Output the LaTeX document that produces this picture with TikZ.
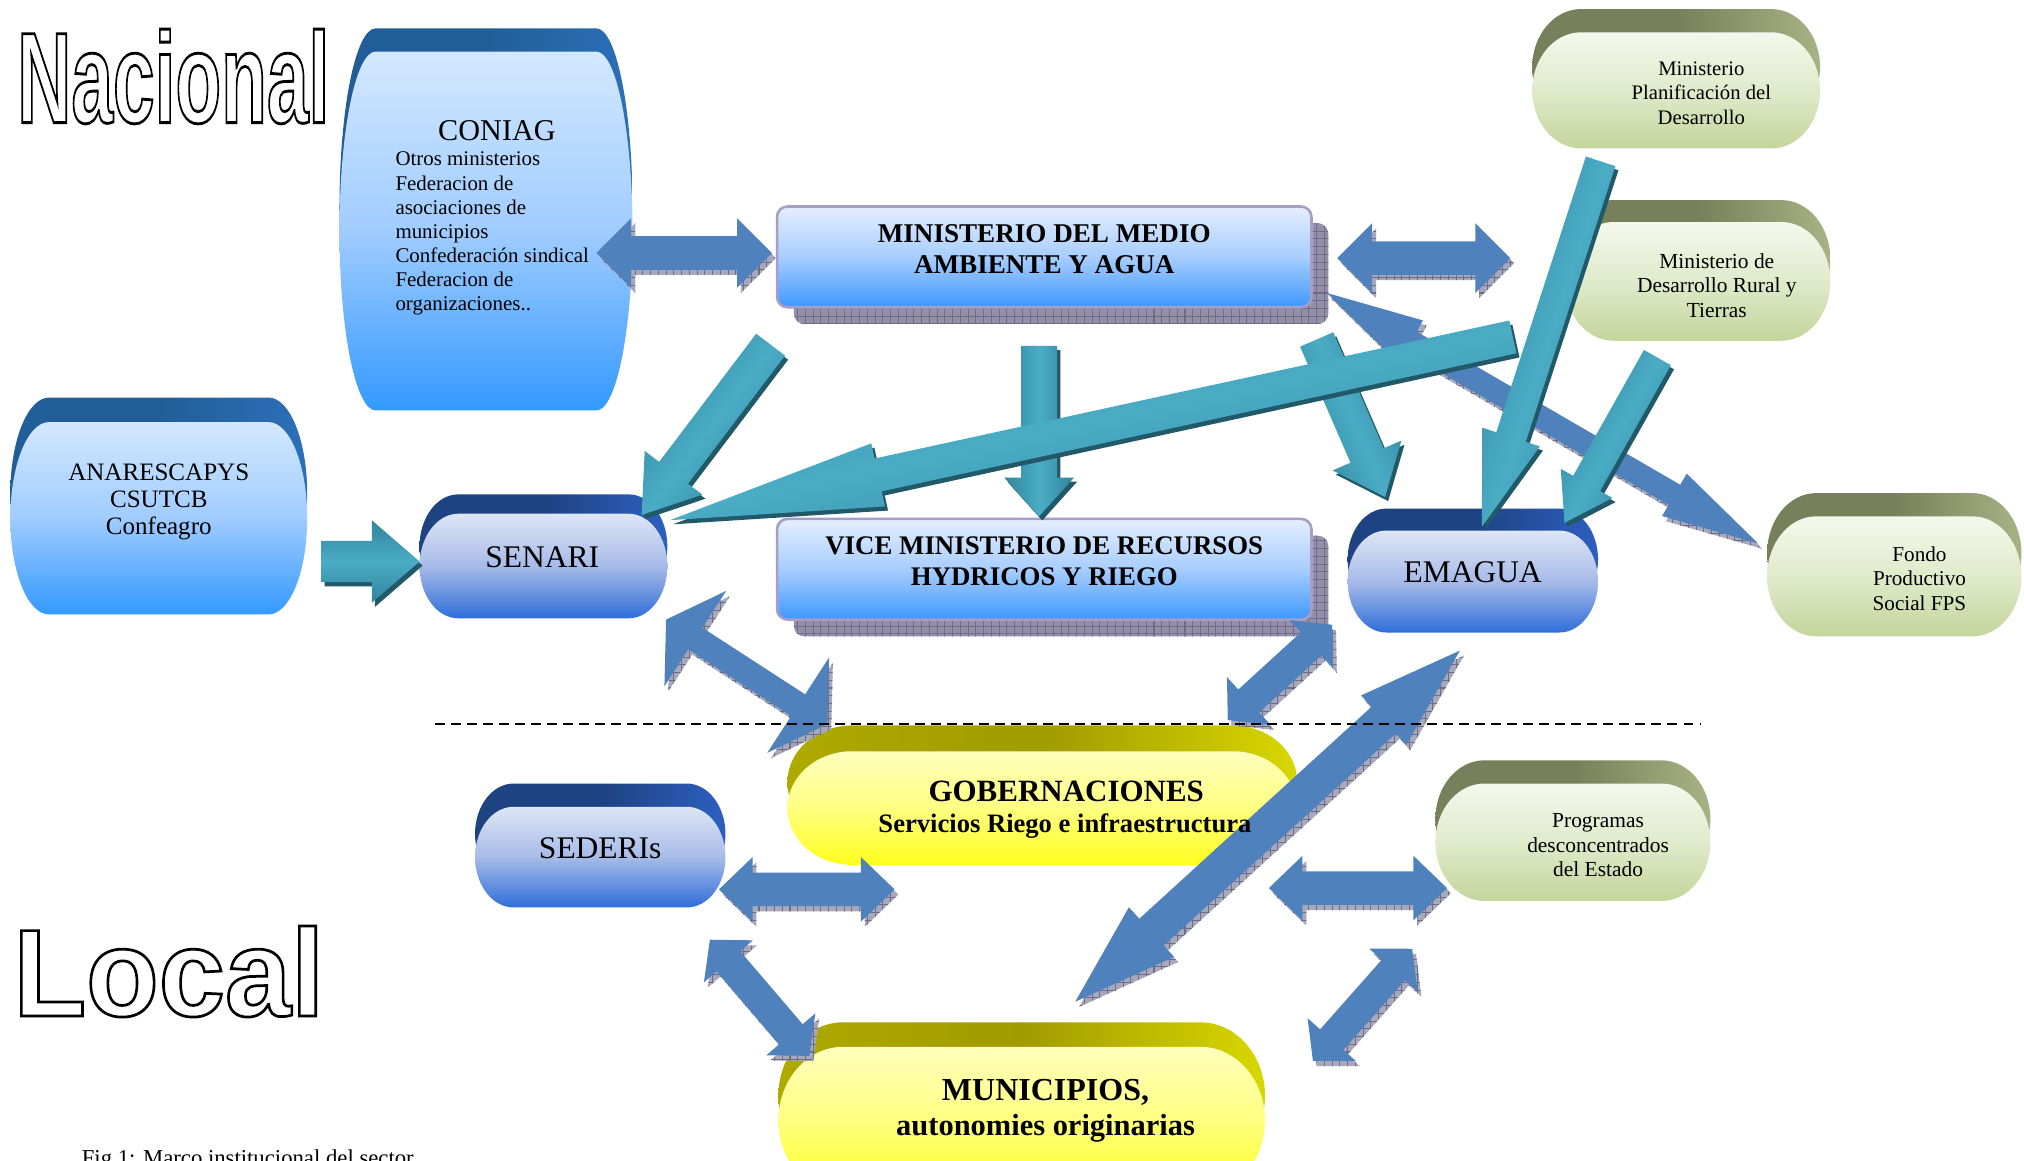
\documentclass[tikz,border=0pt]{standalone}
\usepackage{fontspec}
\setmainfont{Liberation Serif}
\newfontfamily\outsans{Liberation Sans}[BoldFeatures={FakeBold=2.2}]
\usepackage{graphicx}
\usetikzlibrary{calc,patterns}

\definecolor{bluearr}{HTML}{4F81BD}
\definecolor{bshadow}{HTML}{A8A8BC}
\definecolor{gridc}{HTML}{6D6D85}
\definecolor{tealdark}{HTML}{31849B}
\definecolor{teallight}{HTML}{4BACC6}
\definecolor{tealedge}{HTML}{215968}
\definecolor{lbcap}{HTML}{215E99}\definecolor{lbcapR}{HTML}{2C70B8}
\definecolor{lbtop}{HTML}{D3E8FF}\definecolor{lbmid}{HTML}{A0CCFF}\definecolor{lbbot}{HTML}{3399FF}
\definecolor{nvcap}{HTML}{1E4382}\definecolor{nvcapR}{HTML}{2D5FC0}
\definecolor{nvtop}{HTML}{DDE6F6}\definecolor{nvmid}{HTML}{A7BBE8}\definecolor{nvbot}{HTML}{2F6ED9}
\definecolor{gncap}{HTML}{76805A}\definecolor{gncapR}{HTML}{A7B384}
\definecolor{gntop}{HTML}{F4F8EC}\definecolor{gnmid}{HTML}{E0EACB}\definecolor{gnbot}{HTML}{C4D59C}
\definecolor{ylcap}{HTML}{A09B00}\definecolor{ylcapR}{HTML}{D8D700}
\definecolor{yltop}{HTML}{FFFFBE}\definecolor{ylmid}{HTML}{FFFF80}\definecolor{ylbot}{HTML}{FFFF1E}
\definecolor{rtop}{HTML}{E4EFFD}\definecolor{rmid}{HTML}{A8CDFF}\definecolor{rbot}{HTML}{3C99FF}
\definecolor{rborder}{HTML}{A99CC6}
\definecolor{rshadow}{HTML}{958FAB}

\tikzset{
  lbcapS/.style={left color=lbcap, right color=lbcapR, middle color=lbcap},
  lbbodyS/.style={top color=lbtop, bottom color=lbbot, middle color=lbmid},
  nvcapS/.style={left color=nvcap, right color=nvcapR, middle color=nvcap},
  nvbodyS/.style={top color=nvtop, bottom color=nvbot, middle color=nvmid},
  gncapS/.style={left color=gncap, right color=gncapR, middle color=gncap},
  gnbodyS/.style={top color=gntop, bottom color=gnbot, middle color=gnmid},
  ylcapS/.style={left color=ylcap!85!yellow, right color=ylcapR, middle color=ylcap},
  ylbodyS/.style={top color=yltop, bottom color=ylbot, middle color=ylmid},
  rectbody/.style={top color=rtop, bottom color=rbot, middle color=rmid, draw=rborder, line width=1pt, rounded corners=4pt},
  rectshade/.style={fill=rshadow, rounded corners=4pt},
  txt/.style={inner sep=0pt, align=center, text=black},
  divline/.style={draw=black, line width=0.8pt, dash pattern=on 3.8pt off 2.4pt},
}

% outlined big label: white fill, black stroke (fake bold stroke)
\newcommand\outlinetext[1]{{\color{white}\special{pdf:code 0 0 0 RG}#1}}

% pill-shaped box with a darker cap: x1,y1,x2,y2,r,cap depth,cap style,body style
\newcommand\pill[8]{%
  \pgfmathsetmacro\prx{#5*0.5}%
  \pgfmathsetmacro\pry{(#4-#2)*0.25}%
  \path[#7] (#1+#5,#2-#6) -- (#3-#5,#2-#6) arc[start angle=90,end angle=-90,x radius=\prx pt,y radius=\pry pt] -- (#1+#5,#4-#6) arc[start angle=270,end angle=90,x radius=\prx pt,y radius=\pry pt] -- cycle;
  \path[#8] (#1+#5,#2) -- (#3-#5,#2) arc[start angle=90,end angle=-90,x radius=\prx pt,y radius=\pry pt] -- (#1+#5,#4) arc[start angle=270,end angle=90,x radius=\prx pt,y radius=\pry pt] -- cycle;
}

% block arrows between named coordinates (half widths and head length in px)
\newcommand\AP[2]{($(\bax pt,\bay pt)+(\bang:#1 pt)+(\bang+90:#2 pt)$)}
\newcommand\arrowsetup[5]{%
  \path (#1); \pgfgetlastxy{\bax}{\bay}%
  \path (#2); \pgfgetlastxy{\bbx}{\bby}%
  \pgfmathsetmacro\bang{atan2((\bby)-(\bay),(\bbx)-(\bax))}%
  \pgfmathsetmacro\blen{veclen((\bbx)-(\bax),(\bby)-(\bay))}%
  \pgfmathsetmacro\bax{\bax}\pgfmathsetmacro\bay{\bay}%
  \pgfmathsetmacro\bs{#3*0.5}\pgfmathsetmacro\nbs{-#3*0.5}%
  \pgfmathsetmacro\bh{#4*0.5}\pgfmathsetmacro\nbh{-#4*0.5}%
  \pgfmathsetmacro\bl{#5*0.5}\pgfmathsetmacro\bm{\blen-#5*0.5}%
}
\newcommand\dblpath{\AP{0}{0} -- \AP{\bl}{\bh} -- \AP{\bl}{\bs} -- \AP{\bm}{\bs} -- \AP{\bm}{\bh} -- \AP{\blen}{0} -- \AP{\bm}{\nbh} -- \AP{\bm}{\nbs} -- \AP{\bl}{\nbs} -- \AP{\bl}{\nbh} -- cycle}
\newcommand\sglpath{\AP{0}{\bs} -- \AP{\bm}{\bs} -- \AP{\bm}{\bh} -- \AP{\blen}{0} -- \AP{\bm}{\nbh} -- \AP{\bm}{\nbs} -- \AP{0}{\nbs} -- cycle}
\newcommand\bluearrow[5]{%
  \arrowsetup{#1}{#2}{#3}{#4}{#5}%
  \begin{scope}[transform canvas={shift={(1.5pt,-2pt)}}]
    \fill[bshadow] \dblpath;
    \fill[pattern=grid, pattern color=gridc] \dblpath;
  \end{scope}
  \fill[bluearr] \dblpath;
}
\newcommand\tealarrow[5]{%
  \arrowsetup{#1}{#2}{#3}{#4}{#5}%
  \begin{scope}[transform canvas={shift={(1.2pt,-1.6pt)}}]
    \fill[tealedge] \sglpath;
  \end{scope}
  \path[top color=tealdark, bottom color=tealdark, middle color=teallight, shading angle=\bang] \sglpath;
}

\begin{document}
\begin{tikzpicture}[x=0.5pt,y=-0.5pt]
\useasboundingbox (0,0) rectangle (1568,899);
\clip (0,0) rectangle (1568,899);

% ---------- boxes ----------
\pill{263}{40}{490}{318}{28}{18}{lbcapS}{lbbodyS}
\pill{8}{327}{238}{476}{30}{19}{lbcapS}{lbbodyS}
\pill{325}{398}{517}{479}{30}{15}{nvcapS}{nvbodyS}
\pill{1044}{411}{1238}{490}{30}{17}{nvcapS}{nvbodyS}
\pill{368}{625}{562}{703}{30}{18}{nvcapS}{nvbodyS}
\pill{1187}{25}{1410}{115}{38}{18}{gncapS}{gnbodyS}
\pill{1212}{172}{1418}{264}{38}{17}{gncapS}{gnbodyS}
\pill{1369}{400}{1566}{493}{38}{18}{gncapS}{gnbodyS}
\pill{1112}{607}{1325}{698}{38}{18}{gncapS}{gnbodyS}
\pill{610}{582}{1005}{670}{50}{20}{ylcapS}{ylbodyS}
\pill{603}{811}{980}{925}{50}{19}{ylcapS}{ylbodyS}

\path[rectshade] (615,173) rectangle (1029,251);
\path[pattern=grid, pattern color=gridc, rounded corners=4pt] (615,173) rectangle (1029,251);
\path[rectbody] (602,160) rectangle (1016,238);
\path[rectshade] (615,415) rectangle (1029,493);
\path[pattern=grid, pattern color=gridc, rounded corners=4pt] (615,415) rectangle (1029,493);
\path[rectbody] (602,402) rectangle (1016,480);

% ---------- arrow end points ----------
\coordinate (b1s) at (462,196);  \coordinate (b1e) at (598,196);
\coordinate (b2s) at (1036,200); \coordinate (b2e) at (1170,200);
\coordinate (b3s) at (1028,227); \coordinate (b3e) at (1362,421);
\coordinate (b4s) at (516,480);  \coordinate (b4e) at (641,561);
\coordinate (b5s) at (1032,484); \coordinate (b5e) at (951,558);
\coordinate (b6s) at (833,776);  \coordinate (b6e) at (1131,504);
\coordinate (b7s) at (557,689);  \coordinate (b7e) at (693,689);
\coordinate (b8s) at (983,688);  \coordinate (b8e) at (1121,688);
\coordinate (b9s) at (550,728);  \coordinate (b9e) at (627,818);
\coordinate (b10s) at (1094,735); \coordinate (b10e) at (1017,822);

\coordinate (t1s) at (597,267);  \coordinate (t1e) at (497,399);
\coordinate (t2s) at (805,268);  \coordinate (t2e) at (805,400);
\coordinate (t3s) at (1020,263); \coordinate (t3e) at (1073,385);
\coordinate (t4s) at (1172,261); \coordinate (t4e) at (519,403);
\coordinate (t5s) at (1240,125); \coordinate (t5e) at (1148,408);
\coordinate (t6s) at (1284,277); \coordinate (t6e) at (1212,405);
\coordinate (t7s) at (249,435);  \coordinate (t7e) at (325,435);

% ---------- blue double arrows ----------
\bluearrow{b1s}{b1e}{13}{27}{27}
\bluearrow{b2s}{b2e}{13}{27}{27}
\bluearrow{b3s}{b3e}{9}{19}{75}
\bluearrow{b4s}{b4e}{10}{44}{27}
\bluearrow{b5s}{b5e}{12}{25}{22}
\bluearrow{b6s}{b6e}{14}{26}{80}
\bluearrow{b7s}{b7e}{13}{25}{26}
\bluearrow{b8s}{b8e}{13}{25}{26}
\bluearrow{b9s}{b9e}{12}{25}{22}
\bluearrow{b10s}{b10e}{12}{25}{22}

% ---------- teal arrows ----------
\tealarrow{t1s}{t1e}{14}{28}{41}
\tealarrow{t2s}{t2e}{14}{27}{30}
\tealarrow{t3s}{t3e}{14}{29}{35}
\tealarrow{t4s}{t4e}{13}{25}{165}
\tealarrow{t5s}{t5e}{12}{23.5}{73}
\tealarrow{t6s}{t6e}{12}{23}{35}
\tealarrow{t7s}{t7e}{16}{32}{37}

% ---------- texts ----------
\node[txt, anchor=base west, font=\outsans\bfseries\fontsize{50}{50}\selectfont] (nacional) at (13,95) {\scalebox{0.58}[1]{\outlinetext{Nacional}}};
\node[txt, anchor=base west, font=\outsans\bfseries\fontsize{48}{48}\selectfont] (local) at (10,787) {\scalebox{0.96}[1]{\outlinetext{Local}}};

\node[txt, font=\fontsize{11.7}{14}\selectfont] (coniag) at (385,101) {CONIAG};
\node[txt, align=left, anchor=west, font=\fontsize{8.1}{9.35}\selectfont] (coniagtxt) at (306,181) {Otros ministerios\\Federacion de\\asociaciones de\\municipios\\Confederación sindical\\Federacion de\\organizaciones..};
\node[txt, font=\fontsize{9.7}{10.5}\selectfont] (anares) at (123,389) {ANARESCAPYS\\CSUTCB\\Confeagro};
\node[txt, font=\fontsize{12.2}{14}\selectfont] (senari) at (420,432) {SENARI};
\node[txt, font=\fontsize{12.2}{14}\selectfont] (emagua) at (1141,443) {EMAGUA};
\node[txt, font=\fontsize{12.2}{14}\selectfont] (sederis) at (465,657) {SEDERIs};
\node[txt, font=\bfseries\fontsize{10.5}{12}\selectfont] (mmaya) at (809,193) {MINISTERIO DEL MEDIO\\AMBIENTE Y AGUA};
\node[txt, font=\bfseries\fontsize{10.4}{12}\selectfont] (vmrhr) at (809,435) {VICE MINISTERIO DE RECURSOS\\HYDRICOS Y RIEGO};
\node[txt, font=\fontsize{8}{9.5}\selectfont] (minplan) at (1318,72) {Ministerio\\Planificación del\\Desarrollo};
\node[txt, font=\fontsize{8.3}{9.5}\selectfont] (minrural) at (1330,221) {Ministerio de\\Desarrollo Rural y\\Tierras};
\node[txt, font=\fontsize{8.2}{9.5}\selectfont] (fps) at (1487,448) {Fondo\\Productivo\\Social FPS};
\node[txt, font=\fontsize{8.3}{9.5}\selectfont] (prog) at (1238,655) {Programas\\desconcentrados\\del Estado};
\node[txt, font=\bfseries\fontsize{12}{14}\selectfont] (gob) at (826,613) {GOBERNACIONES};
\node[txt, font=\bfseries\fontsize{10.3}{12}\selectfont] (gobsub) at (825,640) {Servicios Riego e infraestructura};
\node[txt, font=\bfseries\fontsize{12.4}{14}\selectfont] (muni) at (810,846) {MUNICIPIOS,};
\node[txt, font=\bfseries\fontsize{11.8}{14}\selectfont] (munisub) at (810,874) {autonomies originarias};
\node[txt, anchor=base west, font=\fontsize{8.8}{10}\selectfont] (caption) at (63,903) {Fig 1: Marco institucional del sector};

% ---------- divider ----------
\coordinate (d1) at (337,561); \coordinate (d2) at (1317,561);
\draw[divline] (d1) -- (d2);
\end{tikzpicture}
\end{document}
